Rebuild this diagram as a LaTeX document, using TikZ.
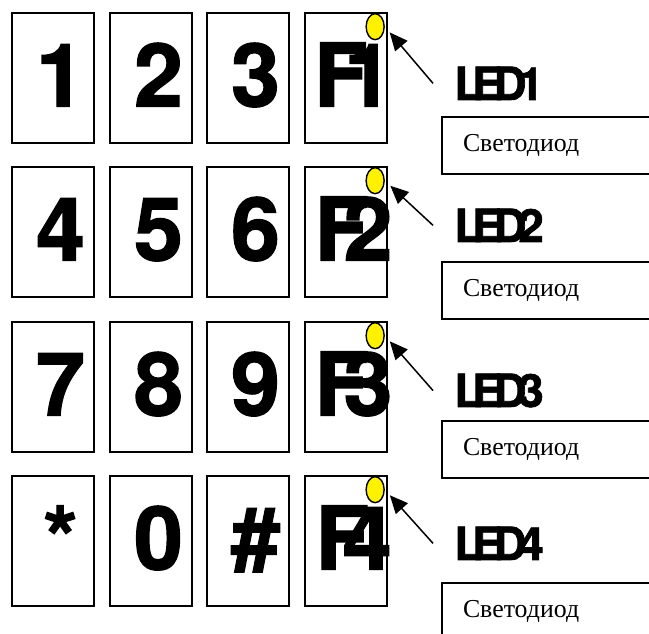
\documentclass[tikz,border=0pt]{standalone}
\usepackage{fontspec}
\setmainfont{Liberation Serif}
\newfontfamily\keyfont{TeX Gyre Heros}[BoldFeatures={FakeBold=1.5}]
\usepackage{tikz}
\usetikzlibrary{arrows.meta, positioning, shapes.geometric}

% key caption, pushed a little to the right inside the key
\newcommand{\keytxt}[1]{\makebox[0pt]{\hspace{0.3cm}#1}}

\begin{document}
\begin{tikzpicture}[
	>=Stealth,
	% Style for keypad keys
	key/.style={rectangle, draw, line width=0.04cm, minimum width=1.64cm, minimum height=2.6cm,
		inner sep=0pt, text height=1.26cm, text depth=0.12cm,
		font=\keyfont\bfseries\fontsize{50}{50}\selectfont},
	% Style for the LEDs on the function keys
	led/.style={ellipse, draw, line width=0.8pt, fill=yellow, minimum width=0.36cm, minimum height=0.52cm, inner sep=0pt},
	% Style for LED names
	tag/.style={anchor=base west, inner xsep=0.42cm, font=\keyfont\bfseries\fontsize{26}{26}\selectfont},
	% Style for description boxes
	note/.style={rectangle, draw, line width=0.04cm, anchor=north west, minimum height=1.14cm,
		text width=4.5cm, inner xsep=0.42cm, align=left, font=\fontsize{14.7}{17}\selectfont},
	% Style for pointer arrows
	pointer/.style={line width=0.03cm, -{Triangle[length=0.36cm, width=0.32cm]}, shorten >=0.15cm}
	]
	
	% 0. Frame of the page
	\path[use as bounding box, clip] (0,0) rectangle (12.98,12.68);
	
	% 1. First row of keys
	\node[key] (k1) at (1.06,11.12) {\keytxt{1}};
	\node[key] (k2) at (3.02,11.12) {\keytxt{2}};
	\node[key] (k3) at (4.96,11.12) {\keytxt{3}};
	\node[key] (F1) at (6.92,11.12) {\keytxt{F\kern-.27em 1}};
	
	% 2. Second row of keys
	\node[key] (k4) at (1.06,8.04) {\keytxt{4}};
	\node[key] (k5) at (3.02,8.04) {\keytxt{5}};
	\node[key] (k6) at (4.96,8.04) {\keytxt{6}};
	\node[key] (F2) at (6.92,8.04) {\keytxt{F\kern-.28em 2}};
	
	% 3. Third row of keys
	\node[key] (k7) at (1.06,4.94) {\keytxt{7}};
	\node[key] (k8) at (3.02,4.94) {\keytxt{8}};
	\node[key] (k9) at (4.96,4.94) {\keytxt{9}};
	\node[key] (F3) at (6.92,4.94) {\keytxt{F\kern-.28em 3}};
	
	% 4. Fourth row of keys
	\node[key] (kstar) at (1.06,1.86) {\keytxt{*}};
	\node[key] (k0) at (3.02,1.86) {\keytxt{0}};
	\node[key] (khash) at (4.96,1.86) {\keytxt{\#}};
	\node[key] (F4) at (6.92,1.86) {\keytxt{F\kern-.3em 4}};
	
	% 5. LEDs in the corner of the function keys
	\node[led, below left=0.1cm and 0.12cm of F1.north east] (led1) {};
	\node[led, below left=0.1cm and 0.12cm of F2.north east] (led2) {};
	\node[led, below left=0.1cm and 0.12cm of F3.north east] (led3) {};
	\node[led, below left=0.1cm and 0.12cm of F4.north east] (led4) {};
	
	% 6. LED names
	\node[tag] (tag1) at (8.66,10.68) {L\kern-.22em E\kern-.2em D\kern-.18em 1};
	\node[tag] (tag2) at (8.66,7.84) {L\kern-.22em E\kern-.2em D\kern-.18em 2};
	\node[tag] (tag3) at (8.66,4.54) {L\kern-.22em E\kern-.2em D\kern-.18em 3};
	\node[tag] (tag4) at (8.66,1.48) {L\kern-.22em E\kern-.2em D\kern-.18em 4};
	
	% 7. Arrows from names to LEDs
	\draw[pointer] (tag1.west) -- (led1.east);
	\draw[pointer] (tag2.west) -- (led2.east);
	\draw[pointer] (tag3.west) -- (led3.east);
	\draw[pointer] (tag4.west) -- (led4.east);
	
	% 8. Description boxes (run off the right edge)
	\node[note] (note1) at (8.82,10.36) {Светодиод};
	\node[note] (note2) at (8.82,7.46) {Светодиод};
	\node[note] (note3) at (8.82,4.28) {Светодиод};
	\node[note] (note4) at (8.82,1.04) {Светодиод};
	
\end{tikzpicture}
\end{document}
